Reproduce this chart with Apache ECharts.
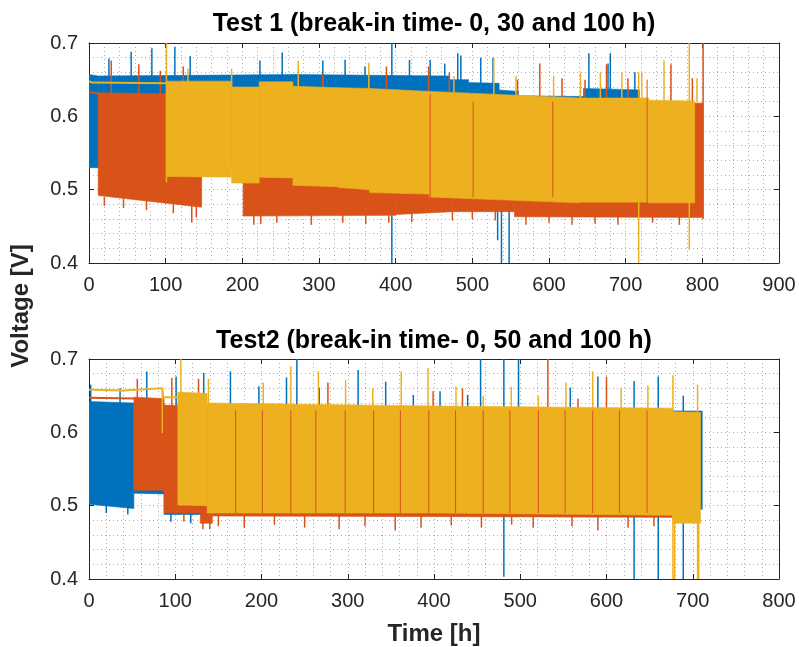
<!DOCTYPE html>
<html>
<head>
<meta charset="utf-8">
<script src="https://cdn.jsdelivr.net/npm/echarts@6/dist/echarts.min.js"></script>
<style>
html,body{margin:0;padding:0;background:#fff;}
#chart{width:799px;height:647px;}
</style>
</head>
<body>
<div id="chart"></div>
<script>
// ---------- DATA ----------
const titles = ['Test 1 (break-in time- 0, 30 and 100 h)', 'Test2 (break-in time- 0, 50 and 100 h)'];
const yLabel = 'Voltage [V]';
const xLabel = 'Time [h]';
const xMax = [900, 800];
const yRange = [0.4, 0.7];

// Bands: [t0, t1, low at t0, high at t0, low at t1, high at t1]
const t1BlueBands = [
  [0, 12, 0.53, 0.657, 0.53, 0.655],
  [12, 270, 0.53, 0.655, 0.53, 0.657],
  [270, 470, 0.53, 0.657, 0.53, 0.655],
  [470, 495, 0.53, 0.650, 0.53, 0.650],
  [495, 535, 0.53, 0.646, 0.53, 0.645],
  [535, 560, 0.53, 0.636, 0.53, 0.634],
  [560, 645, 0.53, 0.628, 0.53, 0.627],
  [645, 718, 0.53, 0.638, 0.53, 0.636]
];
const t1OrangeBands = [
  [12, 147, 0.492, 0.632, 0.476, 0.630],
  [201, 400, 0.464, 0.630, 0.465, 0.626],
  [400, 474, 0.466, 0.626, 0.470, 0.625],
  [474, 555, 0.470, 0.625, 0.470, 0.622],
  [555, 801, 0.463, 0.622, 0.462, 0.618]
];
const t1YellowBands = [
  [101, 186, 0.518, 0.648, 0.517, 0.648],
  [186, 222, 0.509, 0.640, 0.509, 0.640],
  [222, 266, 0.517, 0.647, 0.516, 0.647],
  [266, 325, 0.506, 0.641, 0.504, 0.639],
  [325, 366, 0.503, 0.639, 0.500, 0.638],
  [366, 444, 0.496, 0.638, 0.494, 0.634],
  [444, 639, 0.490, 0.634, 0.482, 0.625],
  [639, 730, 0.483, 0.625, 0.483, 0.625],
  [730, 790, 0.482, 0.622, 0.482, 0.621]
];
const t1OrangeLine = [[0, 0.633], [12, 0.631]];
const t1YellowLine = [[0, 0.648], [4, 0.646], [101, 0.645]];

// Spikes: [t, v from, v to]
const t1BlueSpikes = [
  [26, 0.65, 0.679], [55, 0.65, 0.688], [82, 0.65, 0.693], [112, 0.65, 0.695], [132, 0.65, 0.682],
  [223, 0.65, 0.676], [252, 0.65, 0.687], [305, 0.65, 0.676], [334, 0.65, 0.677], [360, 0.65, 0.668],
  [395, 0.4, 0.7], [418, 0.65, 0.677], [445, 0.65, 0.677], [464, 0.65, 0.672], [481, 0.64, 0.686],
  [485, 0.64, 0.683], [511, 0.64, 0.68], [527, 0.64, 0.68], [533, 0.431, 0.5], [538, 0.4, 0.5],
  [548, 0.4, 0.5], [652, 0.63, 0.686], [677, 0.63, 0.672], [680, 0.63, 0.686], [712, 0.63, 0.66]
];
const t1OrangeSpikes = [
  [29, 0.63, 0.676], [65, 0.63, 0.671], [93, 0.63, 0.662], [123, 0.63, 0.668], [134, 0.455, 0.48],
  [224, 0.453, 0.47], [305, 0.63, 0.658], [388, 0.625, 0.668], [443, 0.625, 0.668], [470, 0.625, 0.66],
  [559, 0.62, 0.65], [588, 0.62, 0.672], [617, 0.62, 0.652], [647, 0.62, 0.65], [675, 0.62, 0.671],
  [703, 0.62, 0.652], [759, 0.62, 0.671], [787, 0.62, 0.652], [801, 0.46, 0.7],
  [20, 0.478, 0.49], [45, 0.475, 0.488], [75, 0.472, 0.485], [110, 0.468, 0.482], [140, 0.462, 0.478],
  [215, 0.452, 0.466], [245, 0.455, 0.466], [290, 0.452, 0.466], [331, 0.455, 0.466], [361, 0.453, 0.466],
  [391, 0.455, 0.466], [421, 0.456, 0.468], [474, 0.458, 0.471], [500, 0.46, 0.471], [530, 0.458, 0.471],
  [570, 0.452, 0.464], [600, 0.455, 0.464], [630, 0.452, 0.464], [660, 0.454, 0.464], [690, 0.452, 0.464],
  [735, 0.455, 0.463], [770, 0.452, 0.463]
];
const t1OrangeGapLines = [[445, 0.49, 0.63], [501, 0.49, 0.62], [605, 0.49, 0.62], [728, 0.47, 0.65]];
const t1YellowSpikes = [
  [101, 0.51, 0.7], [129, 0.64, 0.665], [186, 0.64, 0.665], [273, 0.63, 0.676], [365, 0.63, 0.673],
  [476, 0.62, 0.655], [528, 0.62, 0.679], [557, 0.62, 0.655], [606, 0.62, 0.655], [641, 0.62, 0.66],
  [667, 0.62, 0.66], [695, 0.62, 0.66], [717, 0.4, 0.66], [721, 0.62, 0.66], [750, 0.62, 0.676],
  [783, 0.418, 0.7], [793, 0.62, 0.652]
];

const t2BlueBands = [
  [0, 52, 0.502, 0.642, 0.496, 0.640],
  [52, 87, 0.517, 0.640, 0.516, 0.640],
  [87, 140, 0.488, 0.636, 0.488, 0.636],
  [140, 711, 0.495, 0.632, 0.495, 0.629]
];
const t2OrangeBands = [
  [52, 87, 0.521, 0.648, 0.521, 0.646],
  [87, 129, 0.490, 0.637, 0.490, 0.636],
  [129, 143, 0.476, 0.636, 0.476, 0.635],
  [143, 705, 0.486, 0.634, 0.484, 0.628]
];
const t2YellowBands = [
  [103, 137, 0.501, 0.655, 0.500, 0.653],
  [137, 400, 0.490, 0.640, 0.490, 0.636],
  [400, 677, 0.490, 0.636, 0.487, 0.633],
  [677, 709, 0.476, 0.628, 0.476, 0.627]
];
const t2OrangeLine = [[0, 0.647], [52, 0.646]];
const t2YellowLine = [[0, 0.658], [40, 0.657], [85, 0.660], [86, 0.648], [103, 0.648]];

const t2BlueSpikes = [
  [2, 0.64, 0.665], [36, 0.64, 0.66], [67, 0.64, 0.683], [101, 0.63, 0.676], [133, 0.63, 0.681],
  [164, 0.63, 0.683], [197, 0.63, 0.663], [229, 0.63, 0.675], [241, 0.63, 0.7], [267, 0.63, 0.661],
  [312, 0.63, 0.685], [344, 0.63, 0.669], [376, 0.63, 0.651], [407, 0.63, 0.656], [439, 0.63, 0.651],
  [454, 0.63, 0.7], [481, 0.403, 0.7], [498, 0.63, 0.7], [558, 0.63, 0.661], [590, 0.63, 0.676],
  [632, 0.4, 0.67], [660, 0.4, 0.676], [689, 0.4, 0.65],
  [20, 0.49, 0.502], [45, 0.488, 0.498], [95, 0.478, 0.49], [118, 0.476, 0.49]
];
const t2OrangeSpikes = [
  [56, 0.646, 0.673], [96, 0.636, 0.674], [127, 0.636, 0.673], [277, 0.63, 0.668], [399, 0.63, 0.656],
  [433, 0.63, 0.66], [532, 0.63, 0.7], [567, 0.63, 0.646], [600, 0.63, 0.676],
  [110, 0.478, 0.49], [132, 0.468, 0.478], [140, 0.468, 0.478], [150, 0.472, 0.486], [180, 0.47, 0.486],
  [215, 0.474, 0.486], [250, 0.47, 0.486], [290, 0.468, 0.486], [320, 0.472, 0.486], [355, 0.466, 0.486],
  [385, 0.47, 0.486], [420, 0.473, 0.486], [455, 0.47, 0.486], [490, 0.474, 0.486], [515, 0.47, 0.486],
  [560, 0.472, 0.485], [590, 0.466, 0.485], [625, 0.47, 0.485], [655, 0.472, 0.485]
];
const t2OrangeGapLines = [
  [170, 0.49, 0.63], [201, 0.49, 0.63], [234, 0.49, 0.63], [263, 0.49, 0.63], [297, 0.49, 0.63],
  [330, 0.49, 0.63], [361, 0.49, 0.63], [394, 0.49, 0.63], [425, 0.49, 0.63], [457, 0.49, 0.63],
  [488, 0.49, 0.63], [521, 0.49, 0.63], [552, 0.49, 0.63], [584, 0.49, 0.63], [615, 0.49, 0.63],
  [647, 0.49, 0.63]
];
const t2YellowSpikes = [
  [85, 0.599, 0.66], [106.5, 0.5, 0.7], [138.5, 0.64, 0.673], [202, 0.63, 0.668], [234, 0.63, 0.69],
  [266, 0.63, 0.683], [297.5, 0.63, 0.671], [329, 0.63, 0.66], [362, 0.63, 0.683], [393, 0.63, 0.688],
  [425.5, 0.63, 0.662], [457, 0.63, 0.65], [489.6, 0.63, 0.662], [521, 0.63, 0.65], [553, 0.63, 0.668],
  [584, 0.63, 0.683], [617, 0.63, 0.661], [648, 0.63, 0.664], [677, 0.4, 0.678], [679, 0.4, 0.5],
  [705.6, 0.4, 0.665], [707, 0.4, 0.5]
];

// ---------- STYLE ----------
const C_BLUE = '#0072BD', C_ORANGE = '#D95319', C_YELLOW = '#EDB120';
const AX = '#262626';
const FONT = '"Liberation Sans", Arial, Helvetica, sans-serif';
const GRID_LINE = { color: '#aeaeae', type: [1, 3], width: 1 };

function bandSeries(data, color, gi) {
  return {
    type: 'custom', xAxisIndex: gi * 2, yAxisIndex: gi * 2, clip: true,
    encode: { x: [0, 1], y: [2, 3, 4, 5] },
    data: data,
    renderItem: function (params, api) {
      const t0 = api.value(0), t1 = api.value(1);
      const pts = [
        api.coord([t0, api.value(2)]), api.coord([t0, api.value(3)]),
        api.coord([t1, api.value(5)]), api.coord([t1, api.value(4)])
      ];
      return { type: 'polygon', shape: { points: pts }, style: { fill: color, stroke: color, lineWidth: 0.6 } };
    },
    silent: true
  };
}
function spikeSeries(data, color, gi, w) {
  return {
    type: 'custom', xAxisIndex: gi * 2, yAxisIndex: gi * 2, clip: true,
    encode: { x: 0, y: [1, 2] },
    data: data,
    renderItem: function (params, api) {
      const a = api.coord([api.value(0), api.value(1)]);
      const b = api.coord([api.value(0), api.value(2)]);
      return { type: 'line', shape: { x1: a[0], y1: a[1], x2: b[0], y2: b[1] }, style: { stroke: color, lineWidth: w || 1.5 } };
    },
    silent: true
  };
}
function lineSeries(data, color, gi) {
  return {
    type: 'line', xAxisIndex: gi * 2, yAxisIndex: gi * 2, data: data, showSymbol: false,
    lineStyle: { color: color, width: 2 }, itemStyle: { color: color }, silent: true, animation: false
  };
}

const grids = [
  { left: 89, top: 43, width: 690, height: 220 },
  { left: 89, top: 359, width: 690, height: 220 }
];

const xAxes = [], yAxes = [];
[0, 1].forEach(function (gi) {
  const common = {
    gridIndex: gi, type: 'value', min: 0, max: xMax[gi], interval: 100,
    axisLine: { show: true, onZero: false, lineStyle: { color: AX, width: 1 } },
    axisTick: { show: true, inside: true, length: 5, lineStyle: { color: AX } }
  };
  xAxes.push(Object.assign({}, common, {
    position: 'bottom',
    axisLabel: { show: true, color: AX, fontSize: 20, fontFamily: FONT, margin: 12 },
    splitLine: { show: true, lineStyle: GRID_LINE },
    minorTick: { show: false, splitNumber: 5 },
    minorSplitLine: { show: true, lineStyle: GRID_LINE }
  }));
  xAxes.push(Object.assign({}, common, {
    position: 'top', axisLabel: { show: false }, splitLine: { show: false }
  }));
  const ycommon = {
    gridIndex: gi, type: 'value', min: yRange[0], max: yRange[1], interval: 0.1,
    axisLine: { show: true, onZero: false, lineStyle: { color: AX, width: 1 } },
    axisTick: { show: true, inside: true, length: 5, lineStyle: { color: AX } }
  };
  yAxes.push(Object.assign({}, ycommon, {
    position: 'left',
    axisLabel: { show: true, color: AX, fontSize: 20, fontFamily: FONT, margin: 11,
      formatter: function (v) { return v.toFixed(1); } },
    splitLine: { show: true, lineStyle: GRID_LINE },
    minorTick: { show: false, splitNumber: 5 },
    minorSplitLine: { show: true, lineStyle: GRID_LINE }
  }));
  yAxes.push(Object.assign({}, ycommon, {
    position: 'right', axisLabel: { show: false }, splitLine: { show: false }
  }));
});

const series = [
  // Test 1
  bandSeries(t1BlueBands, C_BLUE, 0),
  spikeSeries(t1BlueSpikes, C_BLUE, 0),
  bandSeries(t1OrangeBands, C_ORANGE, 0),
  lineSeries(t1OrangeLine, C_ORANGE, 0),
  spikeSeries(t1OrangeSpikes, C_ORANGE, 0),
  bandSeries(t1YellowBands, C_YELLOW, 0),
  lineSeries(t1YellowLine, C_YELLOW, 0),
  spikeSeries(t1YellowSpikes, C_YELLOW, 0),
  spikeSeries(t1OrangeGapLines, C_ORANGE, 0, 1),
  // Test 2
  bandSeries(t2BlueBands, C_BLUE, 1),
  spikeSeries(t2BlueSpikes, C_BLUE, 1),
  bandSeries(t2OrangeBands, C_ORANGE, 1),
  lineSeries(t2OrangeLine, C_ORANGE, 1),
  spikeSeries(t2OrangeSpikes, C_ORANGE, 1),
  bandSeries(t2YellowBands, C_YELLOW, 1),
  lineSeries(t2YellowLine, C_YELLOW, 1),
  spikeSeries(t2YellowSpikes, C_YELLOW, 1),
  spikeSeries(t2OrangeGapLines, C_ORANGE, 1, 1)
];

const chart = echarts.init(document.getElementById('chart'), null, { renderer: 'canvas' });
chart.setOption({
  animation: false,
  backgroundColor: '#ffffff',
  grid: grids,
  xAxis: xAxes,
  yAxis: yAxes,
  series: series,
  graphic: [
    { type: 'text', x: 434, y: 24, style: { text: titles[0], fontSize: 25, fontWeight: 'bold', fontFamily: FONT, fill: '#000', align: 'center', verticalAlign: 'middle' } },
    { type: 'text', x: 434, y: 341, style: { text: titles[1], fontSize: 25, fontWeight: 'bold', fontFamily: FONT, fill: '#000', align: 'center', verticalAlign: 'middle' } },
    { type: 'text', x: 21, y: 306, rotation: Math.PI / 2, style: { text: yLabel, fontSize: 24, fontWeight: 'bold', fontFamily: FONT, fill: AX, align: 'center', verticalAlign: 'middle' } },
    { type: 'text', x: 434, y: 634, style: { text: xLabel, fontSize: 24, fontWeight: 'bold', fontFamily: FONT, fill: AX, align: 'center', verticalAlign: 'middle' } }
  ]
});
</script>
</body>
</html>
